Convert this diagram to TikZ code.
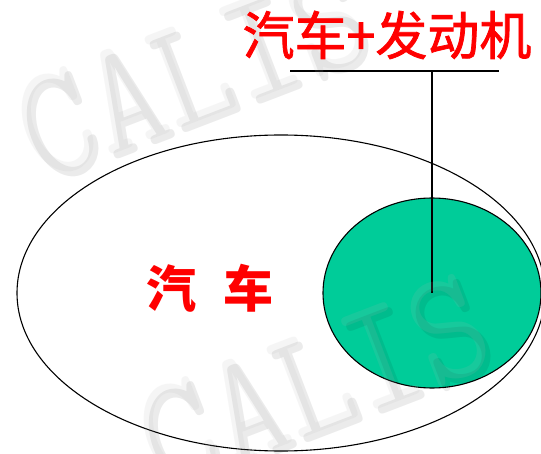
\documentclass[tikz,border=0pt]{standalone}
\usepackage{fontspec}
\newfontfamily\cjk{Noto Sans CJK SC}
\newfontfamily\cjkmid{Noto Sans CJK SC}[FakeBold=1.5]
\usetikzlibrary{shapes.geometric}
\definecolor{engreen}{HTML}{00CC99}
\definecolor{labred}{HTML}{FF0000}
\tikzset{
  outline/.style={draw=black, line width=1.1pt, ellipse, inner sep=0pt},
  lead/.style={draw=black, line width=1.1pt},
  label/.style={text=labred, font=\cjk\bfseries\fontsize{50}{50}\selectfont, inner sep=0pt},
  titlelabel/.style={text=labred, font=\cjkmid\fontsize{52}{52}\selectfont, inner sep=0pt},
  wm/.style={font=\ttfamily\fontsize{160}{160}\selectfont, rotate=21, xscale=0.88, inner sep=0pt},
  wmshade/.style={wm, text=black, text opacity=0.08},
  wmtext/.style={wm, text=black!29, text opacity=0.13}
}
\begin{document}
\begin{tikzpicture}[x=1pt, y=-1pt]
\useasboundingbox (0,0) rectangle (541,454);
\fill[white] (0,0) rectangle (541,454);
% big ellipse: car
\node[outline, minimum width=528pt, minimum height=316pt] (car) at (281,293) {};
% green ellipse: engine
\node[outline, fill=engreen, minimum width=218pt, minimum height=190pt] (engine) at (432,293) {};
% leader lines
\coordinate (hl) at (290,71);
\coordinate (hr) at (499,71);
\coordinate (hub) at (432,71);
\draw[lead] (hl) -- (hr);
\draw[lead] (hub) -- (engine.center);
% watermarks
\begin{scope}[transparency group=knockout]
\node[wmshade] (wm1s) at (196,77) {CALIS};
\node[wmtext] (wm1) at (191,72) {CALIS};
\node[wmshade] (wm2s) at (318,387) {CALIS};
\node[wmtext] (wm2) at (313,382) {CALIS};
\end{scope}
% labels
\node[label] (carlabel) at (210,288) {汽\hspace{28pt}车};
\node[titlelabel] (title) at (387,35) {汽车+发动机};
\end{tikzpicture}
\end{document}
